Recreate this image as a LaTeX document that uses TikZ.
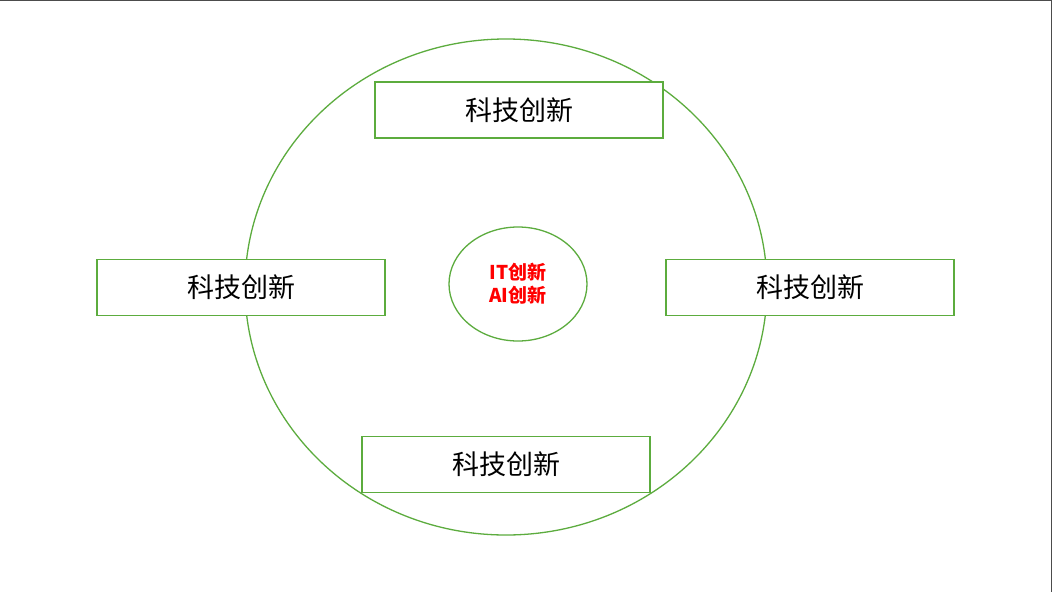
\documentclass[tikz,border=0pt]{standalone}
\usepackage{fontspec}
\usetikzlibrary{shapes.geometric}
\newfontfamily\cjk{Noto Sans CJK SC}
\definecolor{gr}{RGB}{92,172,62}
\tikzset{box/.style={draw=gr,line width=1.3pt,fill=white,minimum width=288pt,minimum height=56pt,inner sep=0pt,font=\cjk\fontsize{27pt}{30pt}\selectfont}}
\begin{document}
\begin{tikzpicture}[x=1pt,y=-1pt]
\useasboundingbox (0,0) rectangle (1052,592);
\fill[white] (0,0) rectangle (1052,592);
\draw[black!70,line width=1pt] (0,0.5) -- (1051.5,0.5) -- (1051.5,592);
\node[draw=gr,line width=1.3pt,ellipse,minimum width=522pt,minimum height=496pt,inner sep=0pt] (outer) at (506,287) {};
\node[draw=gr,line width=1.3pt,ellipse,minimum width=138pt,minimum height=114pt,inner sep=0pt,align=center,text=red,font=\cjk\bfseries\fontsize{19pt}{23pt}\selectfont] (core) at (518,284) {IT创新\\AI创新};
\node[box] (top) at (519,110) {科技创新};
\node[box] (left) at (241,287.5) {科技创新};
\node[box] (right) at (810,287.5) {科技创新};
\node[box] (bottom) at (506,464.5) {科技创新};
\end{tikzpicture}
\end{document}
